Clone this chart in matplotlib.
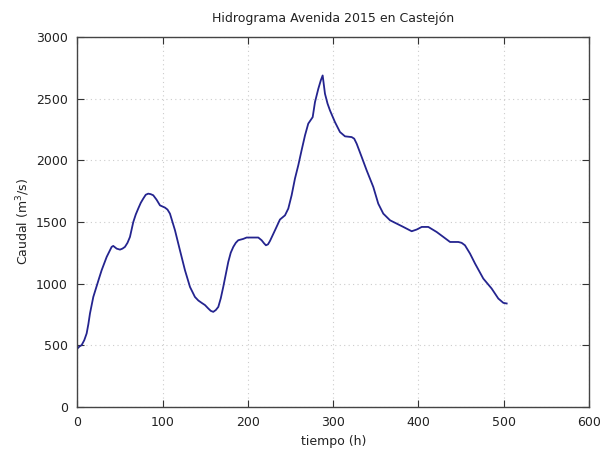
import matplotlib
matplotlib.use("Agg")
import matplotlib.pyplot as plt

# Hydrograph of the 2015 flood at Castejón (time in hours, discharge in m3/s)
tiempo = [0, 2.5, 4.9, 8, 10.8, 12.8, 14.7, 18.6, 22.5, 25.5, 28.4, 34.3, 40.1,
          42, 46, 49.9, 52.8, 55.7, 58.7, 61.6, 65.5, 68.4, 71.3, 74.3, 77.2,
          80.1, 83, 85.9, 88.9, 92.8, 96.8, 102.6, 105.6, 108.5, 114.4, 120.2,
          126.1, 132, 137.8, 141.8, 145.7, 149.6, 153.5, 156.4, 159.3, 162.3,
          165.2, 168.1, 171, 176.9, 179.8, 182.8, 185.7, 188.6, 194.5, 198.4,
          212.1, 216, 219, 221.1, 223.5, 225.8, 231.7, 237.5, 243.4, 247.3,
          251.2, 255.1, 259, 262.9, 266.9, 270.7, 275.9, 278.6, 282.5, 285.5,
          287.6, 290.3, 293.3, 296.2, 302, 307.9, 313.8, 321.6, 324.6, 327.5,
          333.4, 339.2, 347, 352.8, 358.7, 366.6, 374.4, 382.2, 392, 397.9,
          403.8, 411.5, 421.3, 429.1, 437, 446.7, 450.6, 454.5, 460.4, 466.3,
          476, 485.8, 493.6, 499.5, 503.4]
caudal = [473, 490, 500, 540, 595, 670, 757, 891, 978, 1045, 1108, 1216, 1297,
          1305, 1283, 1275, 1283, 1297, 1330, 1378, 1499, 1560, 1608, 1655, 1689,
          1720, 1729, 1725, 1716, 1680, 1634, 1616, 1600, 1567, 1432, 1270,
          1108, 972, 891, 862, 843, 825, 797, 778, 770, 785,
          810, 880, 972, 1175, 1250, 1297, 1330, 1351, 1362, 1373,
          1373, 1351, 1325, 1310, 1318, 1345, 1432, 1519, 1553, 1608,
          1716, 1851, 1959, 2081, 2202, 2297, 2350, 2472, 2580, 2650,
          2688, 2540, 2460, 2404, 2310, 2229, 2194, 2188, 2175, 2134,
          2026, 1918, 1783, 1648, 1567, 1513, 1486, 1459, 1424, 1438,
          1459, 1459, 1418, 1378, 1337, 1337, 1330, 1310, 1243, 1162,
          1040, 959, 878, 843, 838]

x_ticks = [0, 100, 200, 300, 400, 500, 600]
y_ticks = [0, 500, 1000, 1500, 2000, 2500, 3000]

plt.rcParams["font.family"] = ["DejaVu Sans"]
fig = plt.figure(figsize=(6.05, 4.55), dpi=100)
ax = fig.add_axes([0.128, 0.106, 0.8456, 0.8127])

ax.plot(tiempo, caudal, color="#24248f", linewidth=1.3)

ax.set_xlim(0, 600)
ax.set_ylim(0, 3000)
ax.set_xticks(x_ticks)
ax.set_yticks(y_ticks)
ax.grid(True, color="#cccccc", linestyle=(0, (1, 3)), linewidth=0.8)
ax.tick_params(direction="in", length=5, width=0.8, top=True, right=True,
               labelsize=9, colors="#333333", labelcolor="#222222")
ax.tick_params(axis="x", pad=7)
ax.tick_params(axis="y", pad=7)
for s in ax.spines.values():
    s.set_color("#444444")
    s.set_linewidth(1.0)

ax.set_title("Hidrograma Avenida 2015 en Castejón", fontsize=9,
             color="#222222", pad=11)
ax.set_xlabel("tiempo (h)", fontsize=9, color="#222222", labelpad=4)
ax.set_ylabel("Caudal (m$^3$/s)", fontsize=9, color="#222222", labelpad=3)

fig.savefig("out.png", dpi=100)
